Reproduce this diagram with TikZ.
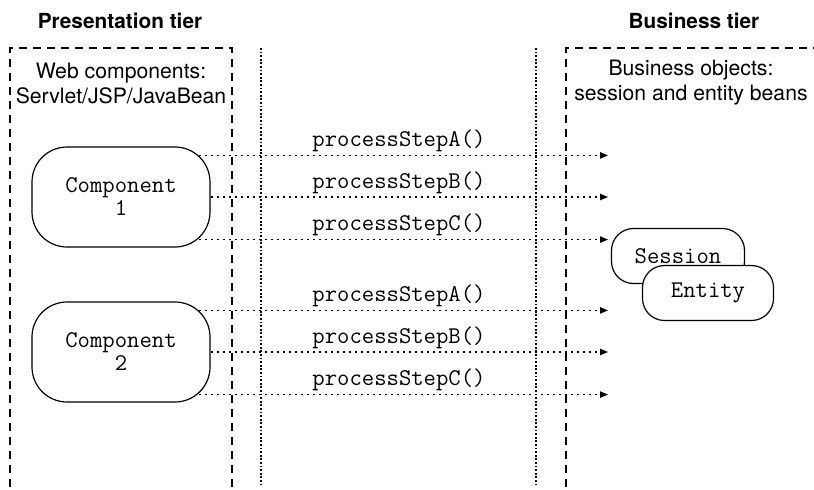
\documentclass[tikz,border=0pt]{standalone}
\usepackage{fontspec}
\setmainfont{TeX Gyre Heros}
\usetikzlibrary{arrows.meta, positioning, calc}

\begin{document}
\begin{tikzpicture}[x=0.5pt, y=-0.5pt,
            tiertitle/.style={font=\bfseries\fontsize{10.4}{12}\selectfont},
            tierinfo/.style={align=center, font=\fontsize{10.6}{12.5}\selectfont},
            bean/.style={draw, fill=white, rounded corners=#1, line width=0.6pt, align=center, inner sep=0pt, font=\ttfamily\fontsize{12}{11.5}\selectfont},
            method/.style={font=\ttfamily\fontsize{12}{12}\selectfont, inner sep=0pt, anchor=base},
            boundary/.style={line width=0.6pt, dash pattern=on 4pt off 3pt},
            layer/.style={line width=0.7pt, dash pattern=on 0.9pt off 0.9pt},
            call/.style={line width=0.6pt, dash pattern=on 1.3pt off 1.7pt, -{Triangle[length=4pt, width=3.2pt]}}
        ]
          \useasboundingbox (0,0) rectangle (814,489);

          \node[tiertitle] (pt) at (120,21) {Presentation tier};
          \node[tiertitle] (bt) at (694,21) {Business tier};

          \draw[boundary] (10,487) -- (10,48) -- (232,48) -- (232,487);
          \draw[boundary] (566,487) -- (566,48) -- (814,48);
          \draw[layer] (261,48) -- (261,487);
          \draw[layer] (536,48) -- (536,487);

          \node[tierinfo] (web) at (121,83) {Web components:\\Servlet/JSP/JavaBean};
          \node[tierinfo] (biz) at (691,83) {Business objects:\\session and entity beans};

          \node[bean=17.5pt, minimum width=89pt, minimum height=50pt] (comp1) at (121,197) {Component\\1};
          \node[bean=17.5pt, minimum width=89pt, minimum height=50pt] (comp2) at (121,352) {Component\\2};

          \node[bean=11pt, minimum width=66.5pt, minimum height=27.5pt] (session) at (678,256) {Session};
          \node[bean=11pt, minimum width=65.5pt, minimum height=27.5pt] (entity) at (708,293) {Entity};

          \coordinate (tips) at (608,0);
          \coordinate (lblx) at (399,0);
          \foreach \c in {1,2} {
            \path ($(comp\c.north east)+(-12,9)$) coordinate (c\c a)
                  (comp\c.east) coordinate (c\c b)
                  ($(comp\c.south east)+(-12,-8)$) coordinate (c\c c);
            \foreach \r/\s in {a/A, b/B, c/C} {
              \draw[call] (c\c\r) -- (c\c\r -| tips);
              \node[method] (m\c\r) at ($(c\c\r -| lblx)+(0,-9)$) {processStep\s()};
            }
          }
        \end{tikzpicture}
\end{document}
